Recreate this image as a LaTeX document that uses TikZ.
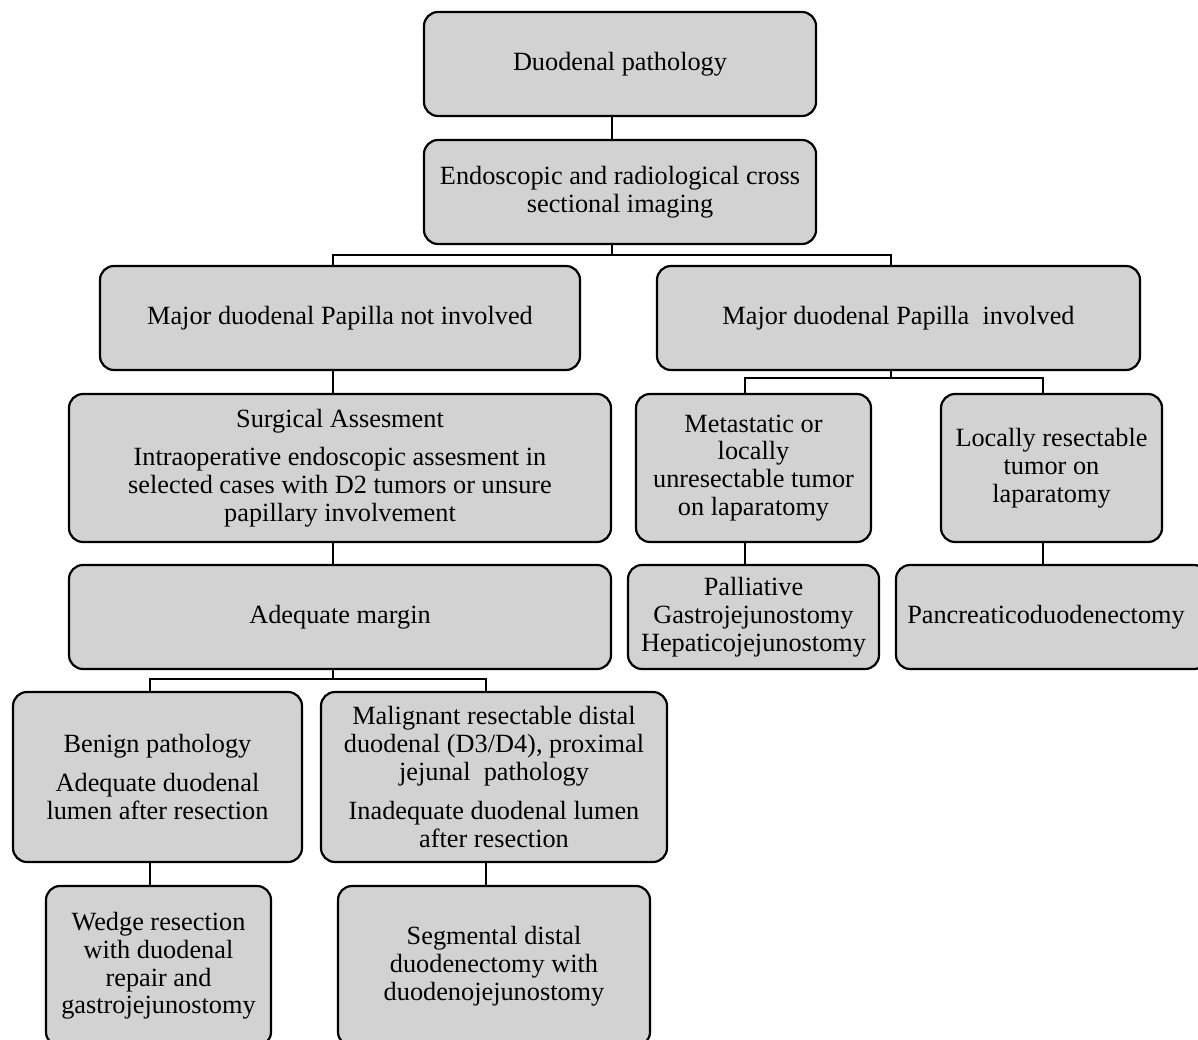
\documentclass[tikz,border=0pt]{standalone}
\usepackage{fontspec}
\setmainfont{Liberation Serif}
\begin{document}
\begin{tikzpicture}[x=1pt,y=-1pt,
  box/.style={draw=black, line width=2.2pt, rounded corners=14pt, fill=boxgray,
    align=center, inner sep=0pt, font=\fontsize{26.3}{27.8}\selectfont},
  conn/.style={draw=black, line width=1.8pt}]
\definecolor{boxgray}{RGB}{210,210,210}
\useasboundingbox (0,0) rectangle (1198,1040);
\clip (0,0) rectangle (1198,1040);
% nodes
\node[box, minimum width=392pt, minimum height=104pt] (n1) at (620,64) {Duodenal pathology};
\node[box, minimum width=392pt, minimum height=104pt] (n2) at (620,192) {Endoscopic and radiological cross\\sectional imaging};
\node[box, minimum width=480pt, minimum height=104pt] (n3) at (340,318) {Major duodenal Papilla not involved};
\node[box, minimum width=483pt, minimum height=104pt] (n4) at (898.5,318) {Major duodenal Papilla~~involved};
\node[box, minimum width=542pt, minimum height=148pt] (n5) at (340,468) {Surgical Assesment\\[11pt]Intraoperative endoscopic assesment in\\selected cases with D2 tumors or unsure\\papillary involvement};
\node[box, minimum width=542pt, minimum height=104pt] (n6) at (340,617) {Adequate margin};
\node[box, minimum width=289pt, minimum height=170pt] (n7) at (157.5,777) {Benign pathology\\[11pt]Adequate duodenal\\lumen after resection};
\node[box, minimum width=346pt, minimum height=170pt] (n8) at (494,777) {Malignant resectable distal\\duodenal (D3/D4), proximal\\jejunal~~pathology\\[11pt]Inadequate duodenal lumen\\after resection};
\node[box, minimum width=225pt, minimum height=160pt] (n9) at (158.5,966) {Wedge resection\\with duodenal\\repair and\\gastrojejunostomy};
\node[box, minimum width=312pt, minimum height=160pt] (n10) at (494,966) {Segmental distal\\duodenectomy with\\duodenojejunostomy};
\node[box, minimum width=235pt, minimum height=148pt] (n11) at (753.5,468) {Metastatic or\\locally\\unresectable tumor\\on laparatomy};
\node[box, minimum width=221pt, minimum height=148pt] (n12) at (1051.5,468) {Locally resectable\\tumor on\\laparatomy};
\node[box, minimum width=251pt, minimum height=104pt] (n13) at (753.5,617) {Palliative\\Gastrojejunostomy\\Hepaticojejunostomy};
\node[box, minimum width=312pt, minimum height=104pt] (n14) at (1052,617) {\hspace*{-3pt}Pancreaticoduodenectomy\hspace*{9pt}};
% connectors
\draw[conn] ([xshift=-8pt]n1.south) -- ([xshift=-8pt]n2.north);
\coordinate (b1) at (612,255);
\draw[conn] ([xshift=-8pt]n2.south) -- (b1);
\draw[conn] ([xshift=-7pt]n3.north) |- (b1) -| ([xshift=-7.5pt]n4.north);
\draw[conn] ([xshift=-7pt]n3.south) -- ([xshift=-7pt]n5.north);
\draw[conn] ([xshift=-7pt]n5.south) -- ([xshift=-7pt]n6.north);
\coordinate (b2) at (333,679);
\draw[conn] ([xshift=-7pt]n6.south) -- (b2);
\draw[conn] ([xshift=-7.5pt]n7.north) |- (b2) -| ([xshift=-8pt]n8.north);
\draw[conn] ([xshift=-7.5pt]n7.south) -- ([xshift=-8.5pt]n9.north);
\draw[conn] ([xshift=-8pt]n8.south) -- ([xshift=-8pt]n10.north);
\coordinate (b3) at (891,378);
\draw[conn] ([xshift=-7.5pt]n4.south) -- (b3);
\draw[conn] ([xshift=-8.5pt]n11.north) |- (b3) -| ([xshift=-8.5pt]n12.north);
\draw[conn] ([xshift=-8.5pt]n11.south) -- ([xshift=-8.5pt]n13.north);
\draw[conn] ([xshift=-8.5pt]n12.south) -- ([xshift=-9pt]n14.north);
\end{tikzpicture}
\end{document}
